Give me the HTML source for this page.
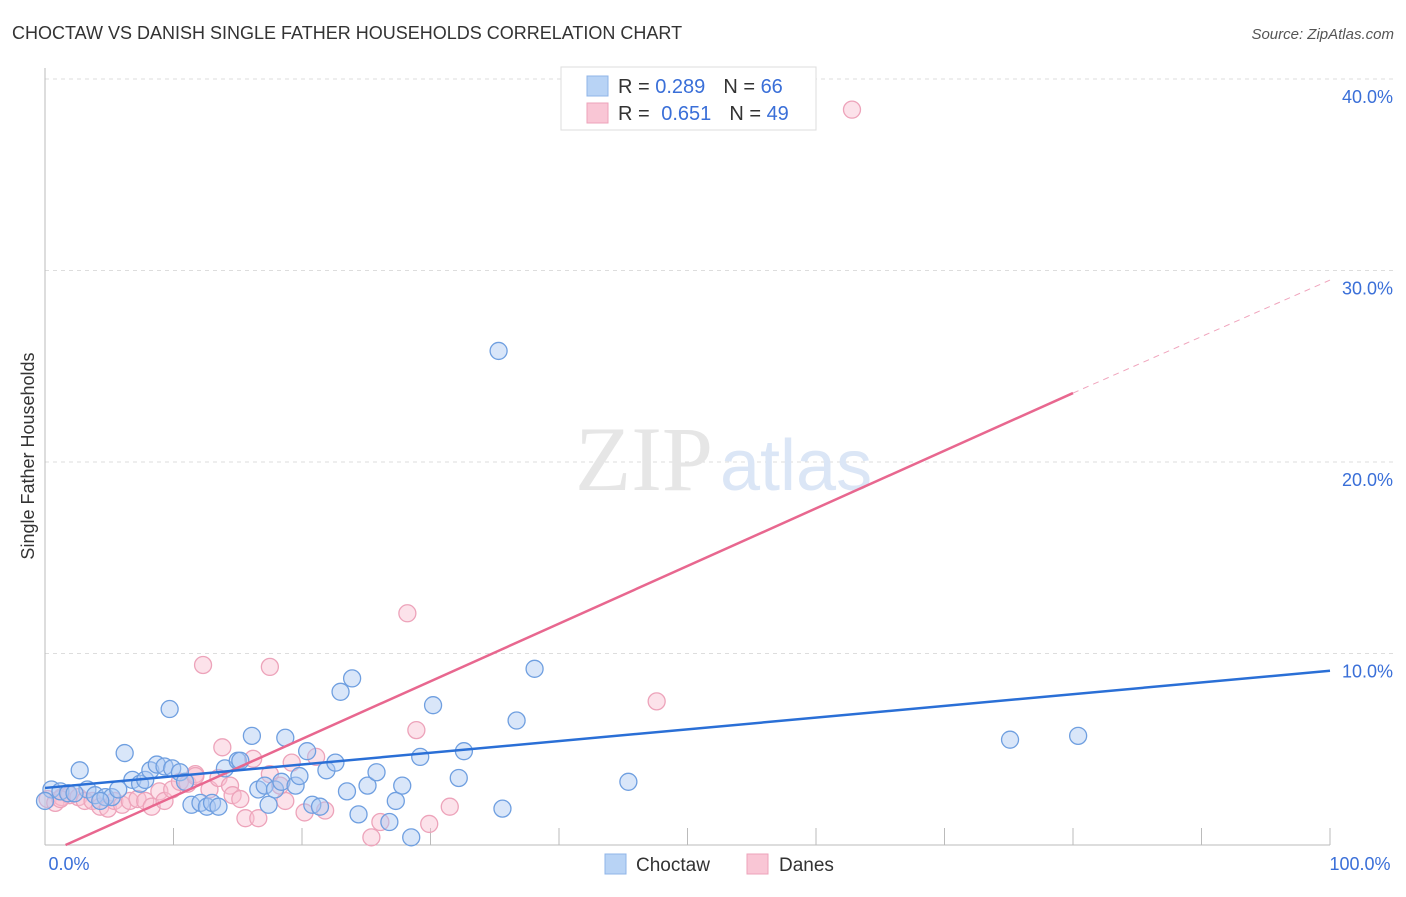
<!DOCTYPE html>
<html><head><meta charset="utf-8"><style>
body{margin:0;background:#fff;font-family:"Liberation Sans",sans-serif;}
svg text{font-family:"Liberation Sans",sans-serif;}
</style></head><body>
<svg width="1406" height="892" viewBox="0 0 1406 892">
<text x="12" y="39" font-size="18" fill="#333">CHOCTAW VS DANISH SINGLE FATHER HOUSEHOLDS CORRELATION CHART</text>
<text x="1394" y="39" font-size="15" fill="#555" text-anchor="end" font-style="italic">Source: ZipAtlas.com</text>
<g id="grid"></g>
<g>
<text x="713" y="490" font-size="92" fill="#e6e6e6" text-anchor="end" style="font-family:'Liberation Serif',serif">ZIP</text>
<text x="720" y="490" font-size="72" fill="#dbe6f6">atlas</text>
</g>
<line x1="45" y1="68" x2="45" y2="845" stroke="#bbb"/>
<line x1="45" y1="845" x2="1330" y2="845" stroke="#bbb"/>
<g id="xt"></g>
<g id="yl"></g>
<text x="69" y="870" font-size="18" fill="#3a6fd8" text-anchor="middle">0.0%</text>
<text x="1360" y="870" font-size="18" fill="#3a6fd8" text-anchor="middle">100.0%</text>
<text transform="translate(34,456) rotate(-90)" font-size="18" fill="#333" text-anchor="middle">Single Father Households</text>
<g id="pts"></g>
<g id="lines"></g>
<g>
<rect x="561" y="67" width="255" height="63" fill="#fff" stroke="#ddd"/>
<rect x="587" y="76" width="21" height="20" fill="#b8d3f5" stroke="#8fb5e8"/>
<rect x="587" y="103" width="21" height="20" fill="#f9c6d5" stroke="#eda3ba"/>
<text x="618" y="93" font-size="20" fill="#333">R = <tspan fill="#3a6fd8">0.289</tspan><tspan dx="18">N = </tspan><tspan fill="#3a6fd8">66</tspan></text>
<text x="618" y="120" font-size="20" fill="#333">R = <tspan fill="#3a6fd8" dx="6">0.651</tspan><tspan dx="18">N = </tspan><tspan fill="#3a6fd8">49</tspan></text>
</g>
<g>
<rect x="605" y="854" width="21" height="20" fill="#b8d3f5" stroke="#8fb5e8"/>
<text x="636" y="871" font-size="19" fill="#333">Choctaw</text>
<rect x="747" y="854" width="21" height="20" fill="#f9c6d5" stroke="#eda3ba"/>
<text x="779" y="871" font-size="19" fill="#333">Danes</text>
</g>
</svg>
<script>
const yTicks=[10,20,30,40];
const yTickLabels=["10.0%","20.0%","30.0%","40.0%"];
const xTicks=[10,20,30,40,50,60,70,80,90,100];
const choctawX=[0.5,1.2,1.8,2.7,3.3,3.9,4.7,5.2,5.7,6.2,6.8,7.4,7.8,8.2,8.7,9.3,9.7,9.9,10.5,10.9,11.4,12.1,12.6,13.0,13.5,14.0,15.0,16.1,16.6,17.1,17.4,17.9,18.4,18.7,19.5,19.8,20.4,20.8,21.4,21.9,22.6,23.0,23.5,23.9,24.4,25.1,25.8,26.8,27.3,27.8,28.5,29.2,30.2,32.2,32.6,35.3,35.6,36.7,38.1,45.4,75.1,80.4,0.0,2.3,4.3,15.2];
const choctawY=[2.9,2.8,2.7,3.9,2.9,2.6,2.5,2.5,2.9,4.8,3.4,3.2,3.4,3.9,4.2,4.1,7.1,4.0,3.8,3.3,2.1,2.2,2.0,2.2,2.0,4.0,4.4,5.7,2.9,3.1,2.1,2.9,3.3,5.6,3.1,3.6,4.9,2.1,2.0,3.9,4.3,8.0,2.8,8.7,1.6,3.1,3.8,1.2,2.3,3.1,0.4,4.6,7.3,3.5,4.9,25.8,1.9,6.5,9.2,3.3,5.5,5.7,2.3,2.7,2.3,4.4];
const danesX=[0.2,0.8,1.3,1.9,2.6,3.1,3.7,4.3,4.9,5.4,6.0,6.6,7.2,7.8,8.3,8.9,9.3,9.9,10.5,11.1,11.7,12.3,12.8,13.5,13.8,14.4,14.6,15.6,16.2,16.6,17.5,17.5,18.3,18.7,19.2,20.2,21.1,21.8,25.4,26.1,28.2,28.9,29.9,31.5,47.6,62.8,11.7,15.2,1.2];
const danesY=[2.4,2.2,2.5,2.6,2.5,2.3,2.3,2.0,1.9,2.3,2.1,2.3,2.4,2.3,2.0,2.8,2.3,2.9,3.3,3.2,3.7,9.4,2.9,3.5,5.1,3.1,2.6,1.4,4.5,1.4,9.3,3.7,3.1,2.3,4.3,1.7,4.6,1.8,0.4,1.2,12.1,6.0,1.1,2.0,7.5,38.4,3.6,2.4,2.4];
const choctawTrend=[[0,2.98],[100,9.1]];
const danesTrend=[[1.6,0.0],[80,23.6]];
const danesTrendExt=[[80,23.6],[100,29.5]];
const X=v=>45+v*12.85, Y=v=>845-v*19.15;
const NS="http://www.w3.org/2000/svg";
function mk(t,a,p){const e=document.createElementNS(NS,t);for(const k in a)e.setAttribute(k,a[k]);p.appendChild(e);return e;}
const grid=document.getElementById('grid'),yl=document.getElementById('yl'),xt=document.getElementById('xt');
yTicks.forEach((t,i)=>{
 const l=mk('line',{x1:45,x2:1394,y1:Y(t),y2:Y(t),stroke:'#ddd','stroke-dasharray':'4,4'},grid);
 
 
 const tx=mk('text',{x:1393,y:Y(t)+24,'font-size':18,fill:'#3a6fd8','text-anchor':'end'},yl);
 tx.textContent=yTickLabels[i];
 
 
});
xTicks.forEach(t=>{
 const l=mk('line',{x1:X(t),x2:X(t),y1:828,y2:845,stroke:'#bbb'},xt);
 
 
});
const pts=document.getElementById('pts');
danesX.forEach((x,i)=>{
 const c=mk('circle',{cx:X(x),cy:Y(danesY[i]),r:8.5,fill:'rgba(249,190,208,0.45)',stroke:'#eda3ba','stroke-width':1.3},pts);
 
 
});
choctawX.forEach((x,i)=>{
 const c=mk('circle',{cx:X(x),cy:Y(choctawY[i]),r:8.5,fill:'rgba(170,200,242,0.45)',stroke:'#6f9fe0','stroke-width':1.3},pts);
 
 
});
const ln=document.getElementById('lines');
function seg(d,col,dash,name){const l=mk('line',{x1:X(d[0][0]),y1:Y(d[0][1]),x2:X(d[1][0]),y2:Y(d[1][1]),stroke:col,'stroke-width':dash?1:2.5},ln);if(dash)l.setAttribute('stroke-dasharray','6,5');
 
 }
seg(danesTrend,'#e8678f',false,'danes-trend-line');
seg(danesTrendExt,'#f0a5bd',true,'danes-trend-extension');
seg(choctawTrend,'#2a6fd6',false,'choctaw-trend-line');
</script>
</body></html>
